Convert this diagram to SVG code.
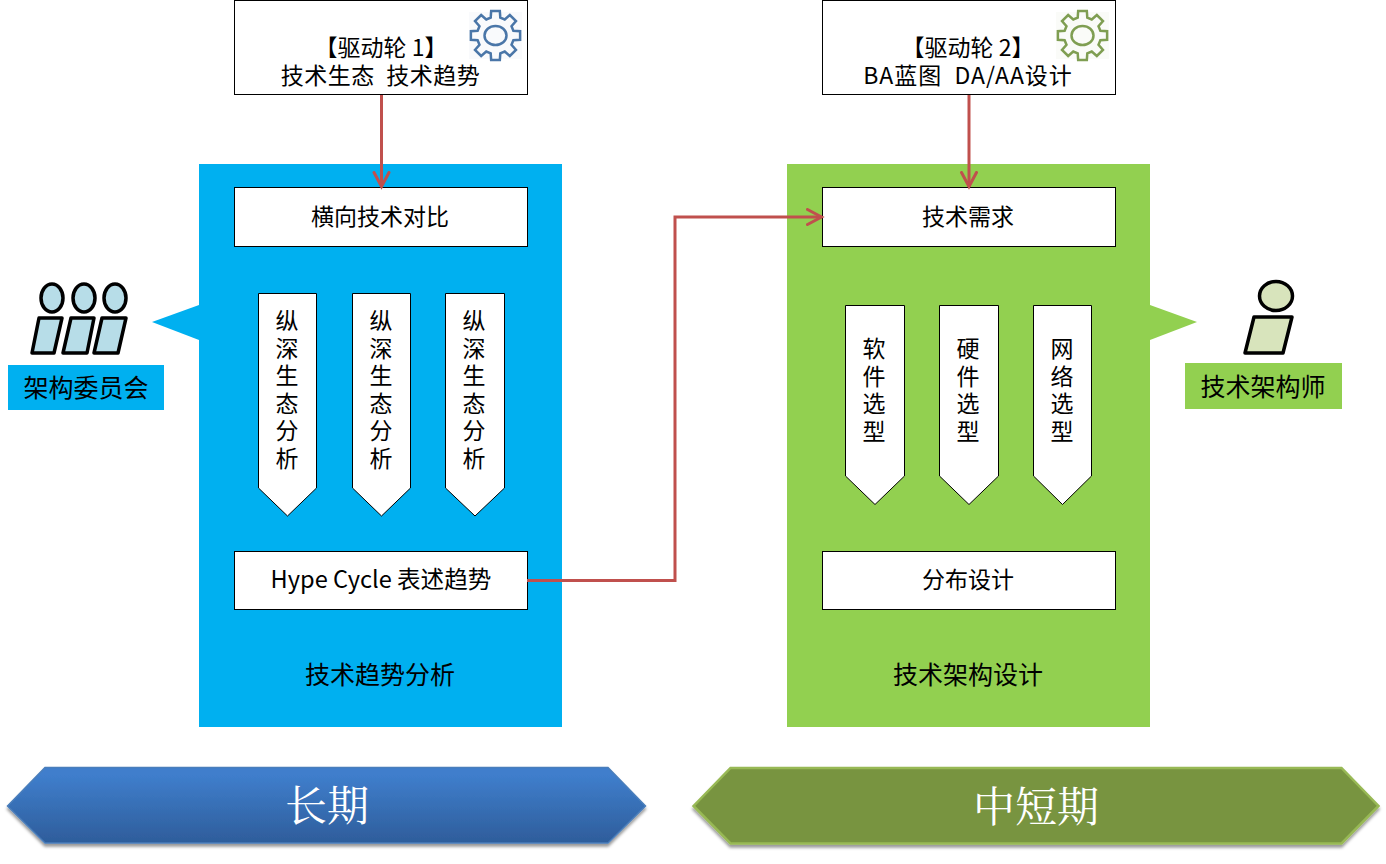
<svg xmlns="http://www.w3.org/2000/svg" width="1386" height="864" viewBox="0 0 1386 864">
<style>
text{font-family:"Noto Sans CJK SC","Noto Sans",sans-serif;fill:#000;text-anchor:middle}
.s23{font-size:23px}.s25{font-size:25px}
.box{fill:#fff;stroke:#000;stroke-width:1}
.tip{fill:#fff;stroke:#000;stroke-width:1}
.hd{stroke:#000;stroke-width:3.5}
.big{font-family:"Noto Serif CJK SC","Noto Sans CJK SC",serif;font-size:42px;fill:#fff}
.conn{fill:none;stroke:#c0504d;stroke-width:3;marker-end:url(#arr)}
.gear{fill:none;stroke-width:2.5}
</style>
<defs>
<marker id="arr" markerUnits="userSpaceOnUse" markerWidth="20" markerHeight="20" refX="16" refY="9" orient="auto"><path d="M1.5 1.500L15.500 9L1.500 16.500" fill="none" stroke="#c0504d" stroke-width="3" stroke-linecap="round"/></marker>
<linearGradient id="bg" x1="0" y1="0" x2="0" y2="1"><stop offset="0.1" stop-color="#3f7ecc"/><stop offset="1" stop-color="#2e5d9b"/></linearGradient>
<filter id="sh" x="-5%" y="-20%" width="110%" height="150%"><feDropShadow dx="0" dy="3" stdDeviation="1.600" flood-color="#000" flood-opacity="0.4"/></filter>
<g id="gear"><path d="M-4.790-17.870L-4.340-24.620L4.340-24.620L4.790-17.870L9.250-16.020L14.340-20.480L20.480-14.340L16.020-9.250L17.870-4.790L24.620-4.340L24.620 4.340L17.870 4.790L16.020 9.250L20.480 14.340L14.340 20.480L9.250 16.020L4.790 17.870L4.340 24.620L-4.340 24.620L-4.790 17.870L-9.250 16.020L-14.340 20.480L-20.480 14.340L-16.020 9.250L-17.870 4.790L-24.620 4.340L-24.620-4.340L-17.870-4.790L-16.020-9.250L-20.480-14.340L-14.340-20.480L-9.250-16.020Z"/><ellipse rx="11" ry="9.500"/></g>
</defs>
<rect width="1386" height="864" fill="#fff"/>

<g id="panel-blue"><rect x="199" y="164" width="363" height="563" fill="#00b0f0"/><path d="M199 305L152 322L199 340Z" fill="#00b0f0"/><text class="s25" x="380" y="684">技术趋势分析</text></g>
<g id="panel-green"><rect x="787" y="164" width="363" height="563" fill="#92d050"/><path d="M1150 305L1197 322L1150 340Z" fill="#92d050"/><text class="s25" x="968" y="684">技术架构设计</text></g>

<g id="driver-1"><rect class="box" x="234.500" y="0.500" width="293" height="94"/><text class="s23" x="381" y="56">【驱动轮 1】<tspan x="380.500" y="84" letter-spacing="0.5">技术生态&#160;&#160;技术趋势</tspan></text><rect x="469" y="12" width="53" height="47" fill="#f9fafc"/><use href="#gear" class="gear" x="495.500" y="35.500" stroke="#4a76a8"/></g>
<g id="driver-2"><rect class="box" x="822.500" y="0.500" width="293" height="94"/><text class="s23" x="968" y="56">【驱动轮 2】<tspan x="968" y="84" letter-spacing="1">BA蓝图&#160;&#160;DA/AA设计</tspan></text><rect x="1056" y="12" width="53" height="47" fill="#fafbf8"/><use href="#gear" class="gear" x="1082.500" y="35.500" stroke="#7f9e52"/></g>

<g id="compare"><rect class="box" x="234.500" y="187.500" width="293" height="59"/><text class="s23" x="380" y="225">横向技术对比</text></g>
<g id="need"><rect class="box" x="822.500" y="187.500" width="293" height="59"/><text class="s23" x="968" y="225">技术需求</text></g>
<g id="hype"><rect class="box" x="234.500" y="551.500" width="293" height="58"/><text x="381" y="588" font-size="23.600">Hype Cycle 表述趋势</text></g>
<g id="dist"><rect class="box" x="822.500" y="551.500" width="293" height="58"/><text class="s23" x="968" y="588">分布设计</text></g>

<g id="deep-1"><path class="tip" d="M258.500 293.500H316.500V488L287.500 516L258.500 488Z"/><text class="s23" x="287" y="329">纵<tspan x="287" y="357">深</tspan><tspan x="287" y="384">生</tspan><tspan x="287" y="412">态</tspan><tspan x="287" y="439">分</tspan><tspan x="287" y="467">析</tspan></text></g>
<g id="deep-2"><path class="tip" d="M352.500 293.500H410.500V488L381.500 516L352.500 488Z"/><text class="s23" x="381" y="329">纵<tspan x="381" y="357">深</tspan><tspan x="381" y="384">生</tspan><tspan x="381" y="412">态</tspan><tspan x="381" y="439">分</tspan><tspan x="381" y="467">析</tspan></text></g>
<g id="deep-3"><path class="tip" d="M445.500 293.500H504.500V488L475 516L445.500 488Z"/><text class="s23" x="474" y="329">纵<tspan x="474" y="357">深</tspan><tspan x="474" y="384">生</tspan><tspan x="474" y="412">态</tspan><tspan x="474" y="439">分</tspan><tspan x="474" y="467">析</tspan></text></g>

<g id="sel-1"><path class="tip" d="M845.500 305.500H904.500V476L875 504.500L845.500 476Z"/><text class="s23" x="874" y="357">软<tspan x="874" y="385">件</tspan><tspan x="874" y="412">选</tspan><tspan x="874" y="440">型</tspan></text></g>
<g id="sel-2"><path class="tip" d="M939.500 305.500H998.500V476L969 504.500L939.500 476Z"/><text class="s23" x="968" y="357">硬<tspan x="968" y="385">件</tspan><tspan x="968" y="412">选</tspan><tspan x="968" y="440">型</tspan></text></g>
<g id="sel-3"><path class="tip" d="M1033.500 305.500H1091.500V476L1062.500 504.500L1033.500 476Z"/><text class="s23" x="1062" y="357">网<tspan x="1062" y="385">络</tspan><tspan x="1062" y="412">选</tspan><tspan x="1062" y="440">型</tspan></text></g>

<g id="committee">
<g class="hd" fill="#b7dde8"><ellipse cx="52" cy="298" rx="11" ry="14"/><ellipse cx="84" cy="298" rx="11" ry="14"/><ellipse cx="115" cy="298" rx="11" ry="14"/><path d="M39 318H62L54 353H32Z" stroke-linejoin="round"/><path d="M71 318H94L87 353H63Z" stroke-linejoin="round"/><path d="M102 318H126L118 353H94Z" stroke-linejoin="round"/></g>
<rect x="8" y="365" width="156" height="45" fill="#00b0f0"/><text class="s25" x="86" y="397">架构委员会</text></g>
<g id="architect">
<g class="hd" fill="#d8e4bc"><ellipse cx="1276" cy="296" rx="16.500" ry="14.500"/><path d="M1254 317H1292L1283 353H1245Z" stroke-linejoin="round"/></g>
<rect x="1185" y="363" width="157" height="46" fill="#92d050"/><text class="s25" x="1263" y="396">技术架构师</text></g>

<g id="long"><path d="M7.500 806L45 767.500H608L645.500 806L608 843H45Z" fill="url(#bg)" stroke="#4a7ebb" stroke-width="1.500" filter="url(#sh)"/><text class="big" x="327" y="821">长期</text></g>
<g id="short"><path d="M693.500 806L730.500 768H1341.500L1378.500 806L1341.500 843.500H730.500Z" fill="#789440" stroke="#98b954" stroke-width="2.500" filter="url(#sh)"/><text class="big" x="1036" y="822">中短期</text></g>

<g id="connectors">
<path class="conn" d="M381.500 95V187"/>
<path class="conn" d="M969 95V187"/>
<path class="conn" d="M527 580.500H675V217H822"/>
</g>
</svg>
